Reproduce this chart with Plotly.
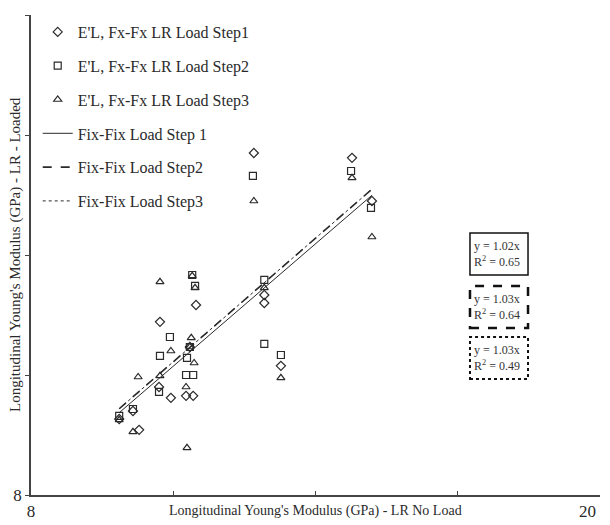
import plotly.graph_objects as go

# ---- data ----
step1_x = [9.86, 10.15, 10.28, 10.70, 10.72, 10.95, 11.27, 11.42, 11.35, 11.48, 12.70, 12.92, 12.92, 13.27, 14.77, 15.19]
step1_y = [9.90, 10.10, 9.63, 10.70, 12.33, 10.43, 10.48, 10.48, 11.70, 12.75, 16.55, 13.00, 12.80, 11.23, 16.43, 15.35]

step2_x = [9.86, 10.15, 10.70, 10.72, 10.93, 11.27, 11.42, 11.29, 11.35, 11.40, 11.46, 12.68, 12.92, 12.92, 13.27, 14.75, 15.17]
step2_y = [9.98, 10.15, 10.58, 11.48, 11.95, 11.00, 11.00, 11.43, 11.70, 13.50, 13.23, 15.98, 13.38, 11.78, 11.50, 16.10, 15.18]

step3_x = [9.86, 10.15, 10.26, 10.72, 10.72, 10.95, 11.27, 11.38, 11.40, 11.46, 11.44, 11.29, 12.70, 12.92, 13.27, 14.77, 15.19, 11.35]
step3_y = [9.88, 9.58, 10.95, 13.33, 10.98, 11.60, 10.70, 11.93, 13.48, 13.18, 11.30, 9.18, 15.35, 13.18, 10.93, 15.93, 14.45, 11.70]

marker_names = ["E'L, Fx-Fx LR Load Step1", "E'L, Fx-Fx LR Load Step2", "E'L, Fx-Fx LR Load Step3"]
line_names = ["Fix-Fix Load Step 1", "Fix-Fix Load Step2", "Fix-Fix Load Step3"]
slopes = [1.02, 1.03, 1.03]
r_squared = [0.65, 0.64, 0.49]

axis_min, axis_max = 8, 20
tick_vals = [8, 11, 14, 17, 20]
y_tick_text = ["8", "", "", "", "20"]
x_tick_text = ["8", "", "", "", ""]
x_end_label = "20"
x_title = "Longitudinal Young's Modulus (GPa) - LR No Load"
y_title = "Longitudinal Young's Modulus (GPa) - LR - Loaded"

# ---- styling ----
FONT = "Liberation Serif, Times New Roman, serif"
INK = "#2a2a2a"
symbols = ["diamond-open", "square-open", "triangle-up-open"]
dashes = ["solid", "dash", "dot"]
line_widths = [1.0, 1.6, 1.0]

fig = go.Figure()
series = [(step1_x, step1_y), (step2_x, step2_y), (step3_x, step3_y)]
for i, (xs, ys) in enumerate(series):
    fig.add_trace(go.Scatter(
        x=xs, y=ys, mode="markers", name=marker_names[i],
        legendgroup=f"m{i}",
        marker=dict(symbol=symbols[i], size=7, color=INK, line=dict(width=1.2, color=INK)),
    ))

all_x = step1_x + step2_x + step3_x
x_lo, x_hi = min(all_x), max(all_x)
for i, k in enumerate(slopes):
    fig.add_trace(go.Scatter(
        x=[x_lo, x_hi], y=[k * x_lo, k * x_hi], mode="lines", name=line_names[i],
        legendgroup=f"l{i}",
        line=dict(color=INK, width=line_widths[i], dash=dashes[i]),
    ))

# equation boxes
box_x0, box_x1 = 0.7715, 0.8735
box_tops = [0.5458, 0.4354, 0.3292]
box_h = 0.0875
border_dash = ["solid", "dash", "dot"]
border_w = [1.5, 2.5, 2.0]
for i in range(3):
    fig.add_shape(type="rect", xref="paper", yref="paper",
                  x0=box_x0, x1=box_x1, y0=box_tops[i] - box_h, y1=box_tops[i],
                  line=dict(color="#111", width=border_w[i], dash=border_dash[i]),
                  fillcolor="rgba(0,0,0,0)")
    fig.add_annotation(xref="paper", yref="paper", x=box_x0 + 0.003, y=box_tops[i] - box_h / 2,
                       xanchor="left", yanchor="middle", align="left", showarrow=False,
                       text=f"y = {slopes[i]:.2f}x<br>R<sup>2</sup> = {r_squared[i]:.2f}",
                       font=dict(family=FONT, size=12, color="#333"))

# axis titles as annotations
fig.add_annotation(xref="paper", yref="paper", x=0.5, y=0, yshift=-16,
                   xanchor="center", yanchor="middle", showarrow=False,
                   text=x_title, font=dict(family=FONT, size=14, color=INK))
fig.add_annotation(xref="paper", yref="paper", x=0, xshift=-16, y=0.5, textangle=-90,
                   xanchor="center", yanchor="middle", showarrow=False,
                   text=y_title, font=dict(family=FONT, size=15, color=INK))
# end label of the x axis (drawn slightly inside the page edge, as in the reference)
fig.add_annotation(xref="x", yref="paper", x=axis_max, y=0, xshift=-13, yshift=-16,
                   xanchor="center", yanchor="middle", showarrow=False,
                   text=x_end_label, font=dict(family=FONT, size=17, color=INK))

axis_common = dict(range=[axis_min, axis_max], tickvals=tick_vals,
                   showgrid=False, zeroline=False, showline=True, linecolor="#444", linewidth=1.5,
                   ticklen=4, tickcolor="#444", tickwidth=1,
                   tickfont=dict(family=FONT, size=17, color=INK), automargin=False)

fig.update_layout(
    width=602, height=517,
    margin=dict(l=23, r=10, t=7, b=30),
    paper_bgcolor="white", plot_bgcolor="white",
    xaxis=dict(**axis_common, ticktext=x_tick_text, ticks="inside"),
    yaxis=dict(**axis_common, ticktext=y_tick_text, ticks="outside"),
    showlegend=True,
    legend=dict(x=0.0118, y=1.0, xanchor="left", yanchor="top",
                bgcolor="rgba(0,0,0,0)", tracegroupgap=10,
                font=dict(family=FONT, size=16, color=INK)),
    font=dict(family=FONT, color=INK),
)

fig.write_html("out.html")
